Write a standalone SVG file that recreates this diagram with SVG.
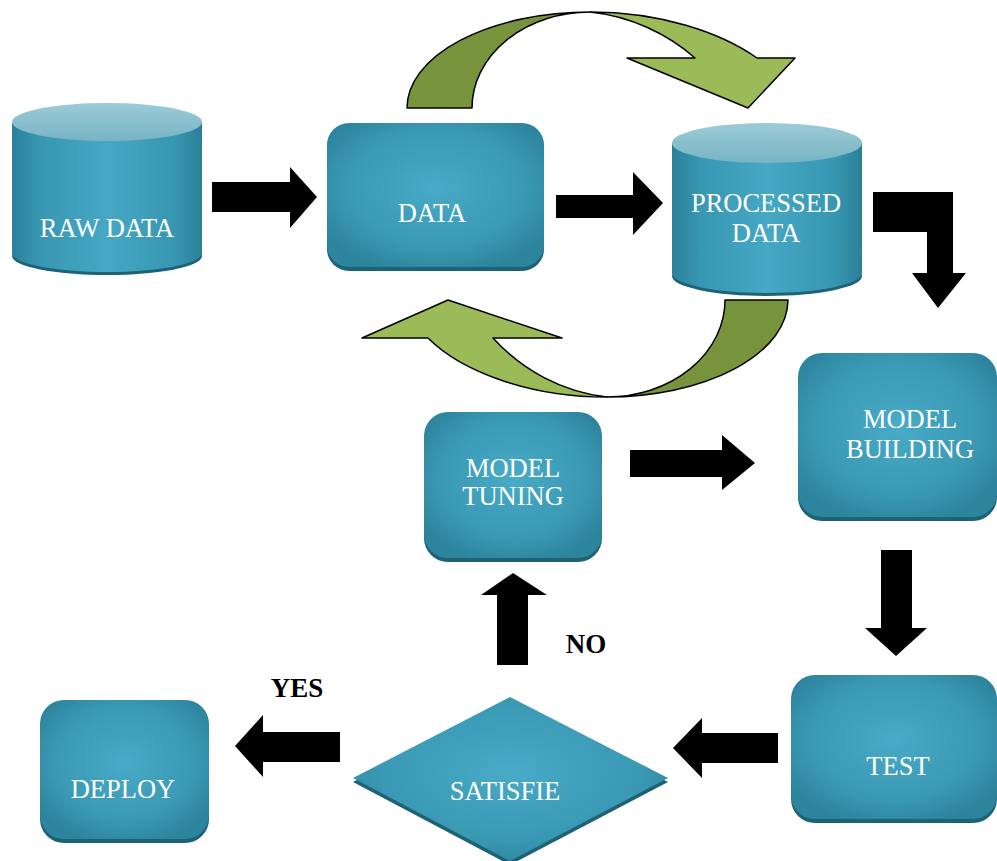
<svg xmlns="http://www.w3.org/2000/svg" width="997" height="861" viewBox="0 0 997 861">
<defs>
<linearGradient id="body" x1="0" y1="0" x2="1" y2="0">
<stop offset="0" stop-color="#2b8099"/><stop offset="0.15" stop-color="#3897b2"/><stop offset="0.5" stop-color="#45a8c4"/><stop offset="0.85" stop-color="#3897b2"/><stop offset="1" stop-color="#2b8099"/>
</linearGradient>
<linearGradient id="top" x1="0" y1="0" x2="0" y2="1">
<stop offset="0" stop-color="#9ccbd7"/><stop offset="1" stop-color="#78b4c4"/>
</linearGradient>
<radialGradient id="box" cx="0.5" cy="0.45" r="0.6">
<stop offset="0" stop-color="#48abc7"/><stop offset="0.7" stop-color="#3a98b3"/><stop offset="1" stop-color="#2d849d"/>
</radialGradient>
<style>
.lbl{font-family:"Liberation Serif","Times New Roman",serif;font-size:26.5px;fill:#fff;text-anchor:middle}
.yn{font-family:"Liberation Serif","Times New Roman",serif;font-size:27px;font-weight:bold;fill:#000;text-anchor:middle}
.shadow{fill:#1d6276}
.box{fill:url(#box)}
.arr{fill:#000}
.gdark{fill:#77933c;stroke:#000;stroke-width:1.5;stroke-linejoin:round}
.glight{fill:#9bbb59;stroke:#000;stroke-width:1.5;stroke-linejoin:round}
</style>
</defs>
<rect width="997" height="861" fill="#fff"/>

<g id="connectors">
<path class="gdark" d="M407,108 A183,96 0 0 1 590,12 A118,96 0 0 0 472,108 Z"/>
<path class="glight" d="M590,12 C660,12 720,32 757,58 L795,58 L748,108 L627,58 L695,58 C668,34 630,16 590,12 Z"/>
<path class="gdark" d="M725,300 L788,300 A181,97 0 0 1 607,397 A118,97 0 0 0 725,300 Z"/>
<path class="glight" d="M607,397 C530,397 462,372 428,338 L362,338 L448,300 L562,338 L493,338 C522,370 562,392 607,397 Z"/>
<polygon class="arr" points="212,182 290,182 290,167 317,197 290,228 290,212 212,212"/>
<polygon class="arr" points="556,195 633,195 633,172 663,203 633,235 633,218 556,218"/>
<polygon class="arr" points="873,192 953,192 953,273 966,273 938,308 912,273 927,273 927,232 873,232"/>
<polygon class="arr" points="630,450 722,450 722,435 755,463 722,490 722,477 630,477"/>
<polygon class="arr" points="881,550 912,550 912,628 927,628 896,656 865,628 881,628"/>
<polygon class="arr" points="778,733 702,733 702,718 673,748 702,778 702,763 778,763"/>
<polygon class="arr" points="340,732 263,732 263,715 235,746 263,777 263,762 340,762"/>
<polygon class="arr" points="497,665 497,595 481,595 513,573 547,595 528,595 528,665"/>
<text class="yn" x="586" y="653">NO</text>
<text class="yn" x="297" y="697">YES</text>
</g>

<g id="raw-data">
<ellipse class="shadow" cx="107" cy="256" rx="95" ry="19"/>
<rect x="12" y="122" width="190" height="131" fill="url(#body)"/>
<ellipse cx="107" cy="253" rx="95" ry="19" fill="url(#body)"/>
<ellipse cx="107" cy="122" rx="95" ry="19" fill="url(#top)"/>
<text class="lbl" x="107" y="237">RAW DATA</text>
</g>

<g id="data">
<rect class="shadow" x="327" y="127" width="217" height="144" rx="22"/>
<rect class="box" x="327" y="123" width="217" height="144" rx="22"/>
<text class="lbl" x="432" y="222">DATA</text>
</g>

<g id="processed-data">
<ellipse class="shadow" cx="767" cy="276" rx="95" ry="20"/>
<rect x="672" y="143" width="190" height="130" fill="url(#body)"/>
<ellipse cx="767" cy="273" rx="95" ry="20" fill="url(#body)"/>
<ellipse cx="767" cy="143" rx="95" ry="20" fill="url(#top)"/>
<text class="lbl" x="766" y="212">PROCESSED</text>
<text class="lbl" x="766" y="242">DATA</text>
</g>

<g id="model-building">
<rect class="shadow" x="798" y="357" width="199" height="164" rx="24"/>
<rect class="box" x="798" y="353" width="199" height="164" rx="24"/>
<text class="lbl" x="910" y="428">MODEL</text>
<text class="lbl" x="910" y="458">BUILDING</text>
</g>

<g id="model-tuning">
<rect class="shadow" x="424" y="416" width="178" height="146" rx="24"/>
<rect class="box" x="424" y="412" width="178" height="146" rx="24"/>
<text class="lbl" x="513" y="477">MODEL</text>
<text class="lbl" x="513" y="505">TUNING</text>
</g>

<g id="test">
<rect class="shadow" x="791" y="679" width="206" height="144" rx="24"/>
<rect class="box" x="791" y="675" width="206" height="144" rx="24"/>
<text class="lbl" x="898" y="775">TEST</text>
</g>

<g id="satisfie">
<polygon class="shadow" points="510,701 668,782 510,865 353,782"/>
<polygon class="box" points="510,697 668,778 510,861 353,778"/>
<text class="lbl" x="505" y="800">SATISFIE</text>
</g>

<g id="deploy">
<rect class="shadow" x="40" y="704" width="169" height="139" rx="24"/>
<rect class="box" x="40" y="700" width="169" height="139" rx="24"/>
<text class="lbl" x="123" y="798">DEPLOY</text>
</g>
</svg>
